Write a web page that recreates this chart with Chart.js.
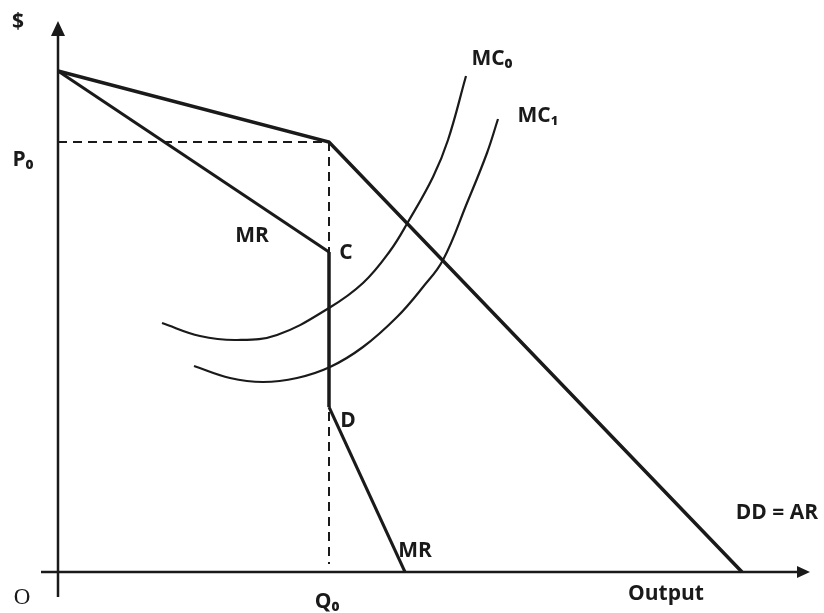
<!DOCTYPE html>
<html>
<head>
<meta charset="utf-8">
<script src="https://cdn.jsdelivr.net/npm/chart.js@4.4.0/dist/chart.umd.min.js"></script>
<style>
  html, body { margin: 0; padding: 0; background: #ffffff; }
  #wrap { width: 824px; height: 613px; }
</style>
</head>
<body>
<div id="wrap"><canvas id="c" width="824" height="613"></canvas></div>
<script>
// ---- Data (output units on x, $ on y; origin at O) ----
const demandCurve = [{x: 0, y: 501}, {x: 271, y: 430}, {x: 684, y: 0}];
const mrUpper     = [{x: 0, y: 501}, {x: 271, y: 320}];
const mrGap       = [{x: 271, y: 320}, {x: 271, y: 165}];
const mrLower     = [{x: 271, y: 165}, {x: 347, y: 0}];
const p0Guide     = [{x: 0, y: 430}, {x: 271, y: 430}];
const q0Guide     = [{x: 271, y: 430}, {x: 271, y: 8}];
const mc0Curve = [
  {x: 104, y: 249}, {x: 142, y: 236}, {x: 179, y: 232}, {x: 219, y: 237},
  {x: 271, y: 264}, {x: 305, y: 289}, {x: 332, y: 321}, {x: 350, y: 350},
  {x: 375, y: 395}, {x: 390, y: 432}, {x: 408, y: 496}
];
const mc1Curve = [
  {x: 136, y: 206}, {x: 172, y: 194}, {x: 205, y: 190}, {x: 239, y: 194},
  {x: 272, y: 205}, {x: 305, y: 225}, {x: 339, y: 255}, {x: 365, y: 285},
  {x: 385, y: 312}, {x: 409, y: 369}, {x: 429, y: 419}, {x: 440, y: 453}
];
const axisRangeX = [-17, 752];
const axisRangeY = [-25, 551];

// ---- Labels (text + anchor in data units) ----
const labels = [
  {t: '$',       x: -40, y: 550, f: 'sans'},
  {t: 'P\u2080', x: -35, y: 412, f: 'sans'},
  {t: 'MR',      x: 194, y: 336, f: 'sans'},
  {t: 'C',       x: 288, y: 319, f: 'sans'},
  {t: 'MC\u2080',x: 434, y: 513, f: 'sans'},
  {t: 'MC\u2081',x: 480, y: 456, f: 'sans'},
  {t: 'D',       x: 290, y: 151, f: 'sans'},
  {t: 'MR',      x: 357, y: 21,  f: 'sans'},
  {t: 'Q\u2080', x: 269, y: -30, f: 'sans'},
  {t: 'O',       x: -36, y: -26, f: 'serif'},
  {t: 'Output',  x: 608, y: -22, f: 'sans'},
  {t: 'DD = AR', x: 719, y: 59,  f: 'sans'}
];

const SANS = 'bold 21px "Open Sans", "DejaVu Sans", sans-serif';
const SERIF = '23px "Liberation Serif", "DejaVu Serif", serif';

function line(data, width, dash) {
  return {
    data: data, showLine: true, borderColor: '#1a1a1a', borderWidth: width,
    borderDash: dash || [], pointRadius: 0, tension: 0, fill: false,
    borderCapStyle: 'butt', borderJoinStyle: 'miter'
  };
}
function curve(data) {
  const d = line(data, 2.2);
  d.tension = 0.4;
  return d;
}

const axesPlugin = {
  id: 'axesArrows',
  beforeDatasetsDraw(chart) {
    const ctx = chart.ctx, xs = chart.scales.x, ys = chart.scales.y;
    const ox = xs.getPixelForValue(0), oy = ys.getPixelForValue(0);
    const x0 = xs.getPixelForValue(axisRangeX[0]), x1 = xs.getPixelForValue(axisRangeX[1]);
    const y0 = ys.getPixelForValue(axisRangeY[0]), y1 = ys.getPixelForValue(axisRangeY[1]);
    ctx.save();
    ctx.strokeStyle = '#1a1a1a'; ctx.fillStyle = '#1a1a1a'; ctx.lineWidth = 2.5;
    ctx.beginPath(); ctx.moveTo(x0, oy); ctx.lineTo(x1 - 10, oy); ctx.stroke();
    ctx.beginPath(); ctx.moveTo(ox, y0); ctx.lineTo(ox, y1 + 12); ctx.stroke();
    ctx.beginPath(); ctx.moveTo(x1, oy); ctx.lineTo(x1 - 13, oy - 6); ctx.lineTo(x1 - 13, oy + 6); ctx.closePath(); ctx.fill();
    ctx.beginPath(); ctx.moveTo(ox, y1); ctx.lineTo(ox - 7, y1 + 15); ctx.lineTo(ox + 7, y1 + 15); ctx.closePath(); ctx.fill();
    ctx.restore();
  }
};
const labelPlugin = {
  id: 'labels',
  afterDatasetsDraw(chart) {
    const ctx = chart.ctx, xs = chart.scales.x, ys = chart.scales.y;
    ctx.save();
    ctx.fillStyle = '#1a1a1a'; ctx.textAlign = 'center'; ctx.textBaseline = 'middle';
    labels.forEach(l => {
      ctx.font = l.f === 'serif' ? SERIF : SANS;
      ctx.fillText(l.t, xs.getPixelForValue(l.x), ys.getPixelForValue(l.y));
    });
    ctx.restore();
  }
};

new Chart(document.getElementById('c'), {
  type: 'scatter',
  data: {
    datasets: [
      line(p0Guide, 2, [9, 6]),
      line(q0Guide, 2, [9, 6]),
      curve(mc0Curve),
      curve(mc1Curve),
      line(demandCurve, 3.5),
      line(mrUpper, 3),
      line(mrGap, 3.5),
      line(mrLower, 3)
    ]
  },
  options: {
    responsive: false, animation: false, events: [],
    layout: { padding: { left: 41, right: 14, top: 21, bottom: 16 } },
    plugins: { legend: { display: false }, tooltip: { enabled: false } },
    scales: {
      x: { type: 'linear', display: false, min: axisRangeX[0], max: axisRangeX[1] },
      y: { type: 'linear', display: false, min: axisRangeY[0], max: axisRangeY[1] }
    }
  },
  plugins: [axesPlugin, labelPlugin]
});
</script>
</body>
</html>
